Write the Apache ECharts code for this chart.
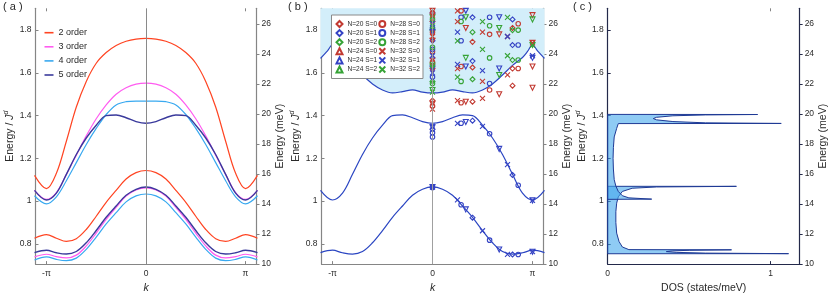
<!DOCTYPE html>
<html><head><meta charset="utf-8">
<script src="https://cdn.jsdelivr.net/npm/echarts@6/dist/echarts.min.js"></script>
<style>html,body{margin:0;padding:0;background:#fff}#c{width:830px;height:299px}</style>
</head><body><div id="c"></div>
<script>
// ---------- tick labels ----------
const kTicks = [-1, 0, 1];
const kTickLabels = ['-π', '0', 'π'];
const eTicks = [0.8, 1, 1.2, 1.4, 1.6, 1.8];
const meVTicks = [10, 12, 14, 16, 18, 20, 22, 24, 26];
const dosTicks = [0, 1];

// ---------- panel (a): dispersion, k in units of pi ----------
const kGrid = [-1.12,-1.0,-0.9,-0.8,-0.7,-0.6,-0.5,-0.4,-0.3,-0.2,-0.1,0,0.1,0.2,0.3,0.4,0.5,0.6,0.7,0.8,0.9,1.0,1.12];
const o2Upper = [1.12,1.058,1.13,1.28,1.44,1.56,1.645,1.695,1.728,1.748,1.758,1.761,1.758,1.748,1.728,1.695,1.645,1.56,1.44,1.28,1.13,1.058,1.12];
const o2Lower = [0.826,0.843,0.826,0.811,0.824,0.867,0.929,0.994,1.05,1.103,1.133,1.143,1.133,1.103,1.05,0.994,0.929,0.867,0.824,0.811,0.826,0.843,0.826];
const o3Upper = [1.05,1.008,1.04,1.125,1.215,1.305,1.385,1.45,1.50,1.53,1.547,1.552,1.547,1.53,1.50,1.45,1.385,1.305,1.215,1.125,1.04,1.008,1.05];
const o3Lower = [0.739,0.751,0.740,0.734,0.747,0.790,0.850,0.914,0.970,1.023,1.052,1.062,1.052,1.023,0.970,0.914,0.850,0.790,0.747,0.734,0.740,0.751,0.739];
const o4Upper = [1.025,0.987,1.02,1.095,1.18,1.265,1.34,1.405,1.45,1.465,1.468,1.468,1.468,1.465,1.45,1.405,1.34,1.265,1.18,1.095,1.02,0.987,1.025];
const o4Lower = [0.724,0.739,0.727,0.721,0.733,0.774,0.831,0.893,0.946,0.996,1.024,1.033,1.024,0.996,0.946,0.893,0.831,0.774,0.733,0.721,0.727,0.739,0.724];
const o5Upper = [1.05,1.005,1.037,1.125,1.218,1.295,1.355,1.400,1.403,1.39,1.372,1.364,1.372,1.39,1.403,1.400,1.355,1.295,1.218,1.125,1.037,1.005,1.05];
const o5Lower = [0.759,0.77,0.758,0.752,0.764,0.805,0.862,0.924,0.977,1.027,1.055,1.066,1.055,1.027,0.977,0.924,0.862,0.805,0.764,0.752,0.758,0.77,0.759];
const orderNames = ['2 order', '3 order', '4 order', '5 order'];

// ---------- panel (b): continuum lower edge ----------
const kCont = [-1.12,-1.05,-1.0,-0.95,-0.9,-0.8,-0.7,-0.6,-0.5,-0.4,-0.3,-0.2,-0.1,0,0.1,0.2,0.3,0.4,0.5,0.6,0.7,0.8,0.9,0.95,1.0,1.05,1.12];
const contEdge = [1.668,1.703,1.732,1.70,1.672,1.635,1.59,1.548,1.52,1.506,1.512,1.52,1.51,1.506,1.51,1.52,1.512,1.506,1.52,1.548,1.59,1.635,1.672,1.70,1.732,1.703,1.668];

// ---------- panel (b): exact-diagonalisation points [k/pi, E/J] ----------
const n20s0 = [[0,1.47],[0,1.67],[0,1.84],[0.4,1.465],[0.4,1.625],[0.4,1.745],[0.8,1.54],[0.8,1.62],[0.8,1.81]];
const n20s1 = [[0,1.065],[0,1.335],[0,1.75],[0,1.88],[0.4,0.922],[0.4,1.376],[0.4,1.655],[0.4,1.86],[0.8,0.75],[0.8,1.122],[0.8,1.73],[0.8,1.85]];
const n20s2 = [[0,1.56],[0,1.80],[0.4,1.57],[0.4,1.79],[0.8,1.66],[0.8,1.80]];
const n24s0 = [[0,1.455],[0,1.61],[0,1.75],[0,1.89],[0.333,1.465],[0.333,1.81],[0.667,1.50],[0.667,1.78],[1,1.53],[1,1.63],[1,1.74],[1,1.87]];
const n24s1 = [[0,1.065],[0,1.345],[0,1.62],[0,1.79],[0.333,0.961],[0.333,1.37],[0.333,1.63],[0.333,1.89],[0.667,0.773],[0.667,1.244],[0.667,1.62],[0.667,1.86],[1,0.763],[1,1.003],[1,1.67]];
const n24s2 = [[0,1.52],[0,1.63],[0,1.86],[0.333,1.67],[0.333,1.86],[0.667,1.59],[0.667,1.81],[1,1.73],[1,1.85]];
const n28s0 = [[0,1.445],[0,1.65],[0,1.70],[0,1.79],[0,1.88],[0.286,1.46],[0.286,1.63],[0.286,1.89],[0.571,1.52],[0.571,1.78],[0.857,1.62],[0.857,1.83]];
const n28s1 = [[0,1.063],[0,1.32],[0,1.30],[0,1.58],[0,1.71],[0,1.81],[0.286,0.983],[0.286,1.364],[0.286,1.75],[0.286,1.86],[0.571,0.817],[0.571,1.315],[0.571,1.55],[0.571,1.86],[0.857,0.75],[0.857,1.074],[0.857,1.73]];
const n28s2 = [[0,1.55],[0,1.72],[0,1.85],[0.286,1.56],[0.286,1.84],[0.571,1.67],[0.571,1.82],[0.857,1.66],[0.857,1.80]];
const n32s0 = [[0,1.43],[0,1.66],[0,1.77],[0,1.87],[0.25,1.47],[0.25,1.62],[0.25,1.84],[0.25,1.89],[0.5,1.48],[0.5,1.56],[0.5,1.79],[0.75,1.59],[0.75,1.77],[1,1.74]];
const n32s1 = [[0,1.065],[0,1.35],[0,1.60],[0,1.68],[0,1.83],[0.25,1.006],[0.25,1.364],[0.25,1.64],[0.25,1.79],[0.5,0.861],[0.5,1.349],[0.5,1.61],[0.75,0.751],[0.75,1.17],[0.75,1.77],[1,0.763],[1,1.003],[1,1.68]];
const n32s2 = [[0,1.51],[0,1.64],[0,1.82],[0.25,1.58],[0.25,1.75],[0.5,1.71],[0.5,1.84],[0.75,1.68],[0.75,1.86],[1,1.73]];

// ---------- panel (c): density of states (DOS, E) outlines ----------
const dosLowerX = [0,1.11,0.6,0.42,0.36,0.40,0.5,0.76,0.13,0.09,0.07,0.055,0.05,0.05,0.055,0.065,0.09,0.15,0.3,0.79,0];
const dosLowerE = [0.7535,0.7538,0.7565,0.760,0.7635,0.767,0.7695,0.7718,0.7728,0.785,0.81,0.85,0.9,0.95,0.99,1.02,1.045,1.06,1.066,1.0688,1.069];
const dosUpperX = [0,0.27,0.13,0.09,0.065,0.05,0.04,0.035,0.033,0.035,0.04,0.055,0.065,1.065,0.6,0.4,0.3,0.28,0.3,0.4,0.6,0.92,0];
const dosUpperE = [1.008,1.009,1.015,1.025,1.045,1.07,1.1,1.15,1.2,1.25,1.3,1.34,1.3625,1.3632,1.366,1.372,1.38,1.386,1.392,1.399,1.403,1.405,1.4055];

// ---------- styling ----------
const FF = '"Liberation Sans", Arial, Helvetica, sans-serif';
const TXT = '#2a2a2a';
const GRAY = '#858585';
const orderColors = ['#ff4422', '#ff5cf0', '#39a9f0', '#3a3a9c'];
const bandBlue = '#2b46c2';
const sColors = ['#c23a32', '#3443c4', '#36a336'];
const crossPath = 'path://M0,0L10,10M10,0L0,10';

const yMin = 0.705, yMax = 1.902, meVMin = 10, meVMax = 27.05, kMin = -1.11, kMax = 1.11;
const grids = [
  {left: 35.5, top: 8.3, width: 221, height: 261.7},
  {left: 321.5, top: 8.3, width: 222, height: 261.7},
  {left: 607.7, top: 8.3, width: 193.6, height: 261.7}
];
const pairs = (xs, ys) => xs.map((x, i) => [x, ys[i]]);
const lbl = {fontSize: 8.5, color: TXT, fontFamily: FF};
const energyName = '{a|Energy / }{b|J}{c|d}';
const energyRich = {
  a: {fontSize: 10.5, fontFamily: FF, color: TXT, verticalAlign: 'bottom'},
  b: {fontSize: 10.5, fontFamily: FF, color: TXT, fontStyle: 'italic', verticalAlign: 'bottom'},
  c: {fontSize: 7, fontFamily: FF, color: TXT, fontStyle: 'italic', verticalAlign: 'bottom', padding: [0, 0, 6, 0]}
};

const xAxes = [], yAxes = [];
grids.forEach((g, i) => {
  const isDos = i === 2;
  const lineCol = isDos ? '#23294a' : GRAY;
  const xt = isDos ? dosTicks : kTicks;
  xAxes.push({
    gridIndex: i, type: 'value', position: 'bottom',
    min: isDos ? 0 : kMin, max: isDos ? 1.178 : kMax,
    axisLine: {show: true, onZero: false, lineStyle: {color: lineCol, width: 1.2}},
    axisTick: {show: true, inside: true, length: 3, customValues: xt, lineStyle: {color: lineCol}},
    axisLabel: {customValues: xt, margin: 5, ...lbl,
      formatter: v => isDos ? String(v) : kTickLabels[kTicks.indexOf(v)]},
    splitLine: {show: false},
    name: isDos ? 'DOS (states/meV)' : 'k', nameLocation: 'middle', nameGap: isDos ? 11 : 10,
    nameTextStyle: {fontSize: 10.5, fontFamily: FF, color: TXT, fontStyle: isDos ? 'normal' : 'italic'}
  });
  xAxes.push({
    gridIndex: i, type: 'value', position: 'top',
    min: isDos ? 0 : kMin, max: isDos ? 1.178 : kMax,
    axisLine: {show: false},
    axisTick: {show: true, inside: true, length: 3, customValues: isDos ? [1] : [-1, 1], lineStyle: {color: GRAY}},
    axisLabel: {show: false}, splitLine: {show: false}
  });
  yAxes.push({
    gridIndex: i, type: 'value', position: 'left', min: yMin, max: yMax,
    axisLine: {show: true, onZero: false, lineStyle: {color: lineCol, width: 1.2}},
    axisTick: {show: true, inside: true, length: 3, customValues: eTicks, lineStyle: {color: lineCol}},
    axisLabel: {customValues: eTicks, margin: 4, ...lbl},
    splitLine: {show: false},
    name: energyName, nameLocation: 'middle', nameRotate: 90, nameGap: 17,
    nameTextStyle: {rich: energyRich}
  });
  yAxes.push({
    gridIndex: i, type: 'value', position: 'right', min: meVMin, max: meVMax,
    axisLine: {show: true, onZero: false, lineStyle: {color: lineCol, width: 1.2}},
    axisTick: {show: true, inside: false, length: 3, customValues: meVTicks, lineStyle: {color: lineCol}},
    axisLabel: {customValues: meVTicks, margin: 5, ...lbl},
    splitLine: {show: false},
    name: 'Energy (meV)', nameLocation: 'middle', nameRotate: 90, nameGap: 14,
    nameTextStyle: {fontSize: 10.5, fontFamily: FF, color: TXT}
  });
});

const series = [];
const zeroLine = col => ({silent: true, symbol: 'none', label: {show: false}, lineStyle: {color: col, width: 1, type: 'solid'}, data: [{xAxis: 0}], animation: false});

// panel (a)
const bandsByOrder = [[o2Upper, o2Lower], [o3Upper, o3Lower], [o4Upper, o4Lower], [o5Upper, o5Lower]];
bandsByOrder.forEach((bands, oi) => {
  bands.forEach((b, bi) => {
    const s = {
      type: 'line', name: orderNames[oi], xAxisIndex: 0, yAxisIndex: 0,
      data: pairs(kGrid, b), symbol: 'none', smooth: 0.35, clip: true,
      lineStyle: {color: orderColors[oi], width: oi === 3 ? 1.4 : 1.2},
      itemStyle: {color: orderColors[oi]}, z: 3
    };
    if (oi === 0 && bi === 0) s.markLine = zeroLine('#8a8a8a');
    series.push(s);
  });
});

// panel (b)
series.push({
  type: 'line', name: 'continuum', xAxisIndex: 2, yAxisIndex: 2,
  data: pairs(kCont, contEdge), symbol: 'none', smooth: 0.3, clip: true,
  lineStyle: {color: bandBlue, width: 1.2},
  areaStyle: {color: '#d3eefa', opacity: 1, origin: 'end'}, z: 1
});
[o5Upper, o5Lower].forEach((b, bi) => {
  const s = {
    type: 'line', name: 'band', xAxisIndex: 2, yAxisIndex: 2,
    data: pairs(kGrid, b), symbol: 'none', smooth: 0.35, clip: true,
    lineStyle: {color: bandBlue, width: 1.2}, z: 2
  };
  if (bi === 0) s.markLine = zeroLine('#a0a0a0');
  series.push(s);
});
const ed = [
  ['N=20 S=0', n20s0, 'diamond', 0, 0], ['N=20 S=1', n20s1, 'diamond', 1, 0], ['N=20 S=2', n20s2, 'diamond', 2, 0],
  ['N=24 S=0', n24s0, 'triangle', 0, 180], ['N=24 S=1', n24s1, 'triangle', 1, 180], ['N=24 S=2', n24s2, 'triangle', 2, 180],
  ['N=28 S=0', n28s0, 'circle', 0, 0], ['N=28 S=1', n28s1, 'circle', 1, 0], ['N=28 S=2', n28s2, 'circle', 2, 0],
  ['N=32 S=0', n32s0, crossPath, 0, 0], ['N=32 S=1', n32s1, crossPath, 1, 0], ['N=32 S=2', n32s2, crossPath, 2, 0]
];
ed.forEach(([name, data, sym, ci, rot]) => {
  const c = sColors[ci];
  series.push({
    type: 'scatter', name, xAxisIndex: 2, yAxisIndex: 2, data,
    symbol: sym, symbolRotate: rot, symbolSize: sym === 'circle' ? 4.5 : 5,
    itemStyle: {color: sym === crossPath ? c : 'rgba(255,255,255,0)', borderColor: c, borderWidth: 1.1, opacity: 1},
    z: 4, clip: true
  });
});

// panel (c)
const dosPoly = (xs, es) => (params, api) => {
  if (params.dataIndex !== 0) return null;
  return {
    type: 'polygon',
    shape: {points: xs.map((x, i) => api.coord([x, es[i]]))},
    style: {fill: 'rgba(68,168,237,0.6)', stroke: '#1f3a95', lineWidth: 1}
  };
};
series.push({type: 'custom', name: 'dosLower', xAxisIndex: 4, yAxisIndex: 4, data: pairs(dosLowerX, dosLowerE), renderItem: dosPoly(dosLowerX, dosLowerE), silent: true, z: 2});
series.push({type: 'custom', name: 'dosUpper', xAxisIndex: 4, yAxisIndex: 4, data: pairs(dosUpperX, dosUpperE), renderItem: dosPoly(dosUpperX, dosUpperE), silent: true, z: 2});

const option = {
  animation: false,
  backgroundColor: '#fff',
  textStyle: {fontFamily: FF},
  title: [
    {text: '( a )', left: 3, top: 1, padding: 0, textStyle: {fontSize: 11, fontWeight: 'normal', color: TXT, fontFamily: FF}},
    {text: '( b )', left: 288, top: 1, padding: 0, textStyle: {fontSize: 11, fontWeight: 'normal', color: TXT, fontFamily: FF}},
    {text: '( c )', left: 573, top: 1, padding: 0, textStyle: {fontSize: 11, fontWeight: 'normal', color: TXT, fontFamily: FF}}
  ],
  grid: grids,
  xAxis: xAxes,
  yAxis: yAxes,
  legend: [
    {data: orderNames, orient: 'vertical', left: 44.5, top: 27.7, padding: 0, itemGap: 4.1, itemWidth: 9, itemHeight: 1.6, icon: 'rect',
      textStyle: {fontSize: 9, lineHeight: 10, color: TXT, fontFamily: FF}, selectedMode: false},
    {data: ed.map(e => e[0]), orient: 'vertical', left: 331.5, top: 15, height: 56, padding: [5, 3, 5, 4],
      itemGap: 1.1, itemWidth: 6, itemHeight: 6, backgroundColor: '#fff', borderColor: '#8a8a8a', borderWidth: 1,
      textStyle: {fontSize: 6.6, color: TXT, fontFamily: FF, width: 31}, selectedMode: false, z: 10}
  ],
  series
};
const chart = echarts.init(document.getElementById('c'), null, {renderer: 'canvas'});
chart.setOption(option);
</script></body></html>
